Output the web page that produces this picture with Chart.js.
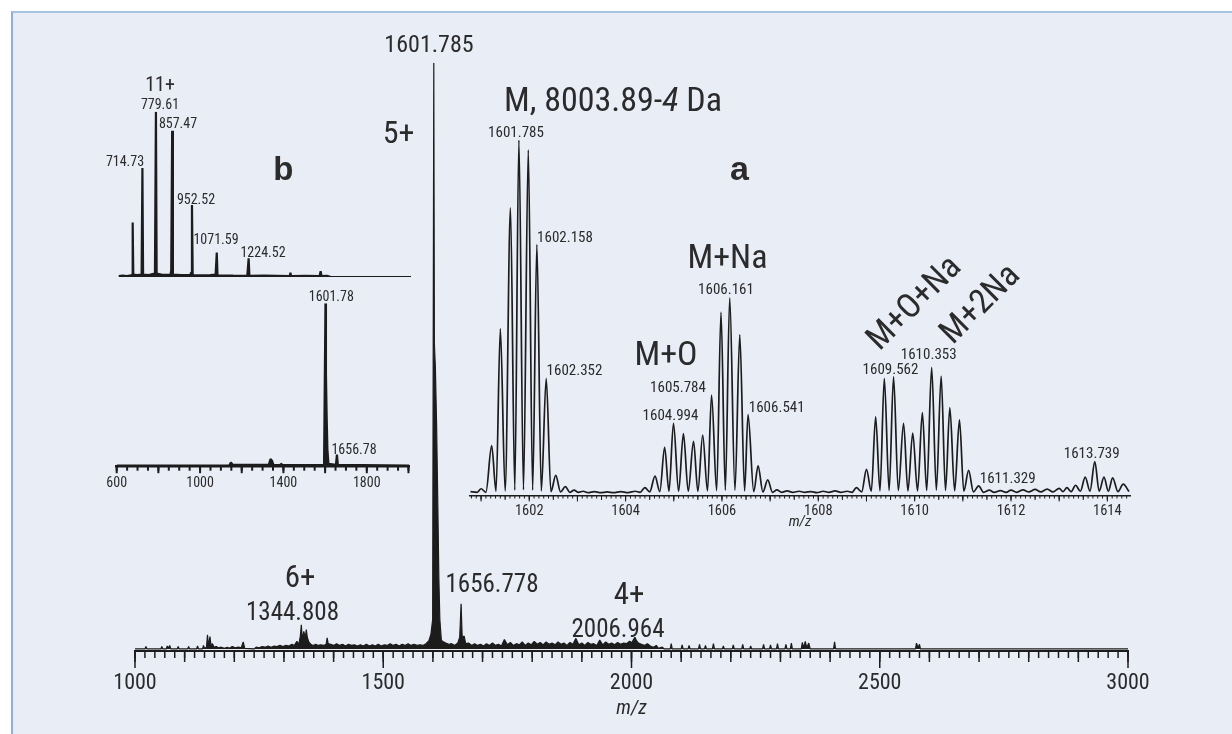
<!DOCTYPE html>
<html>
<head>
<meta charset="utf-8">
<title>ESI mass spectrum</title>
<script src="https://cdn.jsdelivr.net/npm/chart.js@4.4.1/dist/chart.umd.min.js"></script>
<style>
  html, body { margin: 0; padding: 0; background: #fff; overflow: hidden; }
  #stage { position: relative; width: 1232px; height: 734px; }
  #panel { position: absolute; left: 11px; top: 11px; right: 0; bottom: 0; background: #e8edf6;
           border-top: 2px solid #a6c3e1; border-left: 2px solid #8fb2d8; }
  canvas { position: absolute; left: 0; top: 0; width: 1232px; height: 734px; }
</style>
</head>
<body>
<div id="stage">
  <div id="panel"></div>
  <canvas id="mainChart" width="1232" height="734"></canvas>
  <canvas id="insetA" width="1232" height="734"></canvas>
  <canvas id="insetBTop" width="1232" height="734"></canvas>
  <canvas id="insetBLow" width="1232" height="734"></canvas>
</div>
<script>
const INK = '#1c1c1c';
const TEXT = '#2b2b2b';
const NARROW = "'Liberation Sans Narrow', 'Roboto Condensed', 'DejaVu Sans Condensed', sans-serif";
const WIDE = "'Liberation Sans', Arial, sans-serif";

// Main spectrum (m/z 1000-3000), intensity in % of the 5+ base peak
const mainMz = [
  1000, 1020, 1022, 1024, 1052, 1054, 1056, 1063, 1065, 1067, 1070, 1072, 1085, 1087, 1089,
  1106, 1108, 1110, 1124, 1126, 1128, 1136, 1138, 1140, 1144, 1146, 1148, 1151, 1153, 1156,
  1159, 1164, 1168, 1174, 1180, 1186, 1190, 1196, 1202, 1208, 1214, 1218, 1221, 1240, 1244,
  1250, 1256, 1262, 1268, 1274, 1280, 1286, 1292, 1298, 1304, 1310, 1316, 1321, 1326, 1330,
  1333, 1335, 1337, 1340, 1343, 1345, 1347, 1350, 1354, 1359, 1364, 1369, 1374, 1380, 1385,
  1387, 1389, 1394, 1400, 1406, 1412, 1418, 1424, 1430, 1436, 1442, 1448, 1454, 1460, 1466,
  1472, 1478, 1484, 1490, 1496, 1502, 1508, 1514, 1520, 1526, 1532, 1538, 1544, 1550, 1556,
  1562, 1568, 1574, 1580, 1586, 1592, 1596, 1599.5, 1601.785, 1603, 1605, 1607.5, 1610, 1612, 1614,
  1617, 1621, 1626, 1632, 1638, 1644, 1650, 1654, 1656.778, 1659, 1663, 1666, 1672, 1678, 1684,
  1690, 1696, 1702, 1708, 1714, 1720, 1726, 1732, 1738, 1744, 1750, 1756, 1762, 1768, 1774,
  1780, 1786, 1792, 1798, 1804, 1810, 1816, 1822, 1828, 1834, 1840, 1846, 1852, 1858, 1864,
  1870, 1876, 1882, 1888, 1894, 1900, 1906, 1912, 1918, 1924, 1930, 1936, 1942, 1948, 1954,
  1960, 1966, 1972, 1978, 1984, 1990, 1996, 2001, 2004, 2006.964, 2010, 2014, 2020, 2026, 2032,
  2038, 2044, 2050, 2054, 2062, 2066, 2078, 2080, 2082, 2100, 2102, 2104, 2114, 2116, 2118,
  2135, 2137, 2139, 2147, 2149, 2151, 2163, 2165, 2167, 2183, 2185, 2187, 2203, 2205, 2207,
  2222, 2224, 2226, 2238, 2240, 2242, 2264, 2266, 2268, 2278, 2280, 2282, 2292, 2294, 2296,
  2309, 2311, 2313, 2320, 2322, 2324, 2342, 2344, 2347, 2350, 2353, 2357, 2360, 2407, 2409,
  2411, 2572, 2574, 2577, 2580, 2582, 3000
];
const mainInt = [
  0, 0, 0.4, 0, 0, 0.4, 0, 0, 0.5, 0.1, 0.6, 0, 0, 0.4, 0,
  0, 0.4, 0, 0, 0.5, 0, 0, 0.6, 0.1, 0.3, 2.4, 0.5, 2.1, 0.6, 0.9,
  0.3, 0.4, 0.2, 0.3, 0.1, 0.3, 0.1, 0.4, 0.2, 0.3, 0.2, 1.2, 0.1, 0, 0.3,
  0.2, 0.4, 0.3, 0.5, 0.3, 0.5, 0.4, 0.6, 0.4, 0.6, 0.5, 0.8, 0.6, 1.3, 0.8,
  2.2, 4.1, 1.5, 3.0, 1.8, 3.3, 2.0, 1.2, 0.8, 0.6, 0.8, 0.6, 0.7, 0.6, 0.8,
  1.9, 0.9, 0.8, 0.6, 0.9, 0.6, 0.8, 0.5, 0.8, 0.6, 0.7, 0.5, 0.7, 0.5, 0.8,
  0.5, 0.7, 0.5, 0.8, 0.5, 0.7, 0.6, 0.9, 0.6, 0.8, 0.5, 0.8, 0.6, 0.9, 0.6,
  0.8, 0.6, 0.7, 0.6, 0.9, 1.4, 2.5, 5, 100, 52, 48, 38, 24, 12, 5,
  1.5, 1.2, 1.0, 0.8, 0.9, 0.6, 1.0, 2.0, 7.7, 2.0, 2.2, 0.9, 1.0, 0.6, 0.9,
  0.6, 0.8, 0.5, 0.9, 0.6, 1.0, 0.6, 0.8, 0.5, 1.6, 0.7, 1.1, 0.6, 0.9, 0.7,
  1.2, 0.6, 1.0, 0.7, 1.3, 0.8, 1.1, 0.7, 1.2, 0.8, 1.0, 0.7, 1.2, 0.8, 1.0,
  0.6, 1.1, 0.8, 1.8, 0.7, 1.0, 0.6, 1.1, 0.8, 0.9, 0.6, 1.5, 0.7, 1.2, 0.8,
  1.0, 0.7, 1.1, 0.8, 1.0, 0.9, 1.3, 1.1, 1.6, 2.0, 1.4, 1.0, 0.8, 0.6, 0.9,
  0.5, 0.3, 0.6, 0.1, 0.3, 0, 0, 0.9, 0, 0, 0.7, 0, 0, 0.6, 0,
  0, 0.8, 0, 0, 0.6, 0, 0, 0.9, 0, 0, 0.5, 0, 0, 0.7, 0,
  0, 0.8, 0, 0, 0.5, 0, 0, 0.8, 0, 0, 0.7, 0, 0, 0.9, 0,
  0, 0.8, 0, 0, 1.0, 0, 0, 1.1, 0.2, 1.3, 0.2, 1.0, 0, 0, 1.2,
  0, 0, 1.0, 0.2, 0.8, 0, 0
];
const mainTicks = [1000, 1500, 2000, 2500, 3000];

// Inset a: isotope clusters of the 5+ ion (peaks and the valleys between them)
const aMz = [
  1600.78, 1600.92, 1601.00, 1601.10, 1601.22, 1601.31, 1601.40, 1601.50, 1601.61, 1601.70,
  1601.785, 1601.88, 1601.98, 1602.07, 1602.158, 1602.25, 1602.352, 1602.45, 1602.55, 1602.65,
  1602.75, 1602.84, 1602.93, 1603.02, 1603.12, 1603.22, 1603.35, 1603.48, 1603.62, 1603.75,
  1603.90, 1604.05, 1604.20, 1604.30, 1604.40, 1604.50, 1604.61, 1604.71, 1604.81, 1604.90,
  1604.994, 1605.10, 1605.20, 1605.30, 1605.41, 1605.50, 1605.60, 1605.70, 1605.784, 1605.89,
  1605.98, 1606.07, 1606.161, 1606.27, 1606.37, 1606.47, 1606.541, 1606.66, 1606.75, 1606.85,
  1606.95, 1607.05, 1607.14, 1607.24, 1607.35, 1607.47, 1607.60, 1607.72, 1607.85, 1607.97,
  1608.10, 1608.22, 1608.35, 1608.47, 1608.60, 1608.70, 1608.79, 1608.90, 1609.00, 1609.10,
  1609.19, 1609.28, 1609.37, 1609.47, 1609.562, 1609.66, 1609.77, 1609.86, 1609.96, 1610.06,
  1610.16, 1610.25, 1610.353, 1610.45, 1610.55, 1610.64, 1610.73, 1610.83, 1610.93, 1611.02,
  1611.12, 1611.22, 1611.329, 1611.43, 1611.55, 1611.65, 1611.78, 1611.90, 1612.00, 1612.12,
  1612.25, 1612.37, 1612.50, 1612.62, 1612.75, 1612.87, 1613.00, 1613.08, 1613.16, 1613.25,
  1613.34, 1613.44, 1613.54, 1613.64, 1613.739, 1613.83, 1613.93, 1614.02, 1614.11, 1614.22,
  1614.33, 1614.45
];
const aInt = [
  0.4, 0.2, 1.2, 0.2, 13.4, 0.5, 46.5, 0.6, 80.8, 0.8,
  100, 0.9, 97.2, 0.8, 70.4, 0.6, 32.5, 0.4, 5.0, 0.3,
  1.8, 0.2, 0.8, 0.2, 0.5, 0.1, 0.4, 0.1, 0.3, 0.1,
  0.4, 0.1, 0.5, 0.2, 1.5, 0.3, 4.8, 0.4, 12.9, 0.5,
  19.7, 0.5, 16.8, 0.5, 14.6, 0.5, 16.4, 0.6, 27.7, 0.7,
  51.2, 0.8, 55.3, 0.8, 44.8, 0.6, 22.2, 0.4, 7.7, 0.3,
  3.7, 0.2, 0.9, 0.2, 0.6, 0.2, 0.5, 0.2, 0.4, 0.1,
  0.5, 0.2, 0.6, 0.2, 0.5, 0.2, 1.5, 0.3, 6.7, 0.5,
  21.6, 0.6, 32.5, 0.7, 33.0, 0.7, 19.7, 0.6, 17.0, 0.6,
  22.8, 0.7, 35.6, 0.8, 33.1, 0.7, 24.2, 0.6, 20.7, 0.5,
  6.4, 0.3, 2.0, 0.2, 0.8, 0.2, 0.7, 0.2, 0.8, 0.2,
  0.9, 0.3, 1.0, 0.3, 1.1, 0.3, 1.3, 0.4, 1.5, 0.4,
  2.2, 0.5, 4.5, 0.5, 8.9, 0.5, 4.5, 0.5, 4.3, 0.4,
  2.5, 0.4
];
const aTicks = [1602, 1604, 1606, 1608, 1610, 1612, 1614];

// Inset b, upper trace: 8-12+ charge states, % of 779.61
const bTopMz = [600, 620, 640, 660, 665, 668, 671, 690, 708, 711, 714.73, 718, 745, 772, 775,
  779.61, 783, 810, 850, 853, 857.47, 861, 900, 945, 948, 952.52, 956, 1000, 1040, 1066,
  1071.59, 1075, 1110, 1150, 1218, 1224.52, 1228, 1300, 1422, 1425, 1428, 1500, 1565, 1570,
  1574, 1600, 1620, 2004];
const bTopInt = [0.5, 0.9, 0.6, 1.0, 1.4, 33, 1.4, 1.1, 1.4, 3.6, 66, 1.5, 1.2, 2, 4.6,
  100, 2, 1.3, 1.5, 4, 88.5, 1.5, 1.2, 1.3, 2.6, 43.5, 1.2, 1.0, 1.2, 1.5,
  14.8, 1.0, 0.9, 0.8, 0.7, 11.3, 0.7, 0.8, 0.6, 2.6, 0.6, 0.7, 0.6, 3.5,
  0.6, 0.7, 0, 0];

// Inset b, lower trace: 5+ dominant, % of 1601.78
const bLowMz = [600, 1140, 1148, 1156, 1330, 1338, 1345, 1352, 1384, 1388, 1395, 1595, 1601.78,
  1604, 1607, 1611, 1616, 1652, 1656.78, 1661, 2004];
const bLowInt = [0, 0, 1.9, 0.5, 0.5, 4, 3, 0.5, 0.3, 1.2, 0.3, 0.5, 100,
  57, 33, 10, 1, 0.5, 6.8, 0.5, 0];
const bTicks = [600, 1000, 1400, 1800];

function toPoints(xs, ys) {
  return xs.map((x, i) => ({ x: x, y: ys[i] }));
}

// minor / medium / major tick marks hanging below the x axis line
function tickMarks(levels, color, width) {
  return {
    id: 'tickMarks',
    afterDraw(chart) {
      const scale = chart.scales.x;
      const ctx = chart.ctx;
      const y0 = chart.chartArea.bottom;
      ctx.save();
      ctx.strokeStyle = color;
      ctx.lineWidth = width;
      levels.forEach(lv => {
        const n = Math.floor((scale.max - lv.from) / lv.step + 1e-6);
        for (let i = 0; i <= n; i++) {
          const px = scale.getPixelForValue(lv.from + i * lv.step);
          ctx.beginPath();
          ctx.moveTo(px, y0);
          ctx.lineTo(px, y0 + lv.len);
          ctx.stroke();
        }
      });
      ctx.restore();
    }
  };
}

// peak labels and panel captions
function notes(list) {
  return {
    id: 'notes',
    afterDraw(chart) {
      const ctx = chart.ctx;
      ctx.save();
      ctx.fillStyle = TEXT;
      list.forEach(n => {
        const fam = n.bold ? WIDE : NARROW;
        if (n.parts) {
          const fonts = n.parts.map(p => (p[1] ? p[1] + ' ' : '') + n.size + 'px ' + fam);
          let total = 0;
          n.parts.forEach((p, i) => { ctx.font = fonts[i]; total += ctx.measureText(p[0]).width; });
          let x = n.x - total / 2;
          ctx.textAlign = 'left';
          ctx.textBaseline = 'alphabetic';
          n.parts.forEach((p, i) => {
            ctx.font = fonts[i];
            ctx.fillText(p[0], x, n.y);
            x += ctx.measureText(p[0]).width;
          });
          return;
        }
        ctx.font = (n.bold ? 'bold ' : '') + n.size + 'px ' + fam;
        ctx.textAlign = 'center';
        if (n.rot) {
          ctx.save();
          ctx.translate(n.x, n.y);
          ctx.rotate(n.rot * Math.PI / 180);
          ctx.textBaseline = 'middle';
          ctx.fillText(n.text, 0, 0);
          ctx.restore();
        } else {
          ctx.textBaseline = 'alphabetic';
          ctx.fillText(n.text, n.x, n.y);
        }
      });
      ctx.restore();
    }
  };
}

const noLegend = { legend: { display: false }, tooltip: { enabled: false } };

// Main spectrum
new Chart(document.getElementById('mainChart'), {
  type: 'line',
  data: {
    datasets: [{
      data: toPoints(mainMz, mainInt),
      borderColor: INK,
      backgroundColor: INK,
      borderWidth: 1.2,
      borderJoinStyle: 'bevel',
      pointRadius: 0,
      tension: 0,
      fill: 'origin'
    }]
  },
  options: {
    responsive: false,
    animation: false,
    events: [],
    layout: { padding: { left: 135, right: 1232 - 1128, top: 62.7, bottom: 0 } },
    plugins: noLegend,
    scales: {
      x: {
        type: 'linear',
        min: 1000,
        max: 3000,
        afterFit: s => { s.height = 734 - 651; },
        afterBuildTicks: s => { s.ticks = mainTicks.map(v => ({ value: v })); },
        grid: { display: false, drawTicks: false },
        border: { display: true, color: INK, width: 2 },
        ticks: {
          autoSkip: false, maxRotation: 0, padding: 19, color: TEXT,
          font: { family: NARROW, size: 22 },
          callback: v => String(v)
        },
        title: {
          display: true, text: 'm/z', color: TEXT,
          font: { family: NARROW, size: 20, style: 'italic' },
          padding: { top: 0, bottom: 13 }
        }
      },
      y: { display: false, min: -0.35, max: 100 }
    }
  },
  plugins: [
    tickMarks([{ from: 1000, step: 20, len: 7 }, { from: 1000, step: 100, len: 11 }, { from: 1000, step: 500, len: 17 }], INK, 1.5),
    notes([
      { text: '1601.785', x: 429, y: 52, size: 24 },
      { text: '5+', x: 398.5, y: 143, size: 32 },
      { text: '6+', x: 300, y: 587, size: 31 },
      { text: '1344.808', x: 292.5, y: 620, size: 25 },
      { text: '1656.778', x: 492, y: 592, size: 25 },
      { text: '4+', x: 629, y: 604, size: 31 },
      { text: '2006.964', x: 618, y: 637, size: 25 }
    ])
  ]
});

// Inset a: zoom on the 5+ isotope clusters
new Chart(document.getElementById('insetA'), {
  type: 'line',
  data: {
    datasets: [{
      data: toPoints(aMz, aInt),
      borderColor: INK,
      borderWidth: 1.7,
      pointRadius: 0,
      cubicInterpolationMode: 'monotone',
      fill: false
    }]
  },
  options: {
    responsive: false,
    animation: false,
    events: [],
    layout: { padding: { left: 470, right: 1232 - 1130, top: 140, bottom: 0 } },
    plugins: noLegend,
    scales: {
      x: {
        type: 'linear',
        min: 1600.77,
        max: 1614.47,
        afterFit: s => { s.height = 734 - 496; },
        afterBuildTicks: s => { s.ticks = aTicks.map(v => ({ value: v })); },
        grid: { display: false, drawTicks: false },
        border: { display: true, color: INK, width: 1.5 },
        ticks: {
          autoSkip: false, maxRotation: 0, padding: 7, color: TEXT,
          font: { family: NARROW, size: 14.5 },
          callback: v => String(v)
        },
        title: {
          display: true, text: 'm/z', color: TEXT,
          font: { family: NARROW, size: 15, style: 'italic' },
          padding: { top: 0, bottom: 203 }
        }
      },
      y: { display: false, min: -0.85, max: 100 }
    }
  },
  plugins: [
    tickMarks([{ from: 1600.8, step: 0.1, len: 2.5 }, { from: 1601, step: 0.5, len: 4 }, { from: 1601, step: 1, len: 5.5 }], INK, 1),
    notes([
      { parts: [['M, 8003.89-', ''], ['4', 'italic'], [' Da', '']], x: 613, y: 111, size: 34 },
      { text: 'a', x: 739.5, y: 180, size: 34, bold: true },
      { text: '1601.785', x: 516, y: 137.3, size: 15 },
      { text: '1602.158', x: 565, y: 241.7, size: 15 },
      { text: '1602.352', x: 574.5, y: 375, size: 15 },
      { text: 'M+O', x: 666, y: 365, size: 34 },
      { text: '1605.784', x: 678, y: 391.7, size: 15 },
      { text: '1604.994', x: 670.5, y: 420, size: 15 },
      { text: 'M+Na', x: 727.5, y: 268.3, size: 34 },
      { text: '1606.161', x: 726, y: 294, size: 15 },
      { text: '1606.541', x: 776.7, y: 412, size: 15 },
      { text: 'M+O+Na', x: 915, y: 304, size: 34, rot: -45 },
      { text: 'M+2Na', x: 981, y: 305, size: 34, rot: -45 },
      { text: '1609.562', x: 890.5, y: 374.3, size: 15 },
      { text: '1610.353', x: 928.7, y: 359.3, size: 15 },
      { text: '1611.329', x: 1007.7, y: 483.3, size: 15 },
      { text: '1613.739', x: 1091.7, y: 458.3, size: 15 }
    ])
  ]
});

// Inset b, upper trace
new Chart(document.getElementById('insetBTop'), {
  type: 'line',
  data: {
    datasets: [{
      data: toPoints(bTopMz, bTopInt),
      borderColor: INK,
      backgroundColor: INK,
      borderWidth: 2.2,
      borderJoinStyle: 'bevel',
      pointRadius: 0,
      tension: 0,
      fill: 'origin'
    }]
  },
  options: {
    responsive: false,
    animation: false,
    events: [],
    layout: { padding: { left: 118.5, right: 1232 - 411.1, top: 111.7, bottom: 734 - 277 } },
    plugins: noLegend,
    scales: {
      x: { type: 'linear', display: false, min: 600, max: 2004 },
      y: { display: false, min: 0, max: 100 }
    }
  },
  plugins: [
    notes([
      { text: '11+', x: 160, y: 90.7, size: 20 },
      { text: '779.61', x: 160, y: 109.3, size: 14 },
      { text: '857.47', x: 178, y: 128.3, size: 14 },
      { text: '714.73', x: 125, y: 166, size: 14 },
      { text: '952.52', x: 196, y: 204, size: 14 },
      { text: '1071.59', x: 216, y: 244, size: 14 },
      { text: '1224.52', x: 263, y: 257.3, size: 14 },
      { text: 'b', x: 283.3, y: 180, size: 33, bold: true }
    ])
  ]
});

// Inset b, lower trace
new Chart(document.getElementById('insetBLow'), {
  type: 'line',
  data: {
    datasets: [{
      data: toPoints(bLowMz, bLowInt),
      borderColor: INK,
      backgroundColor: INK,
      borderWidth: 2.2,
      borderJoinStyle: 'bevel',
      pointRadius: 0,
      tension: 0,
      fill: 'origin'
    }]
  },
  options: {
    responsive: false,
    animation: false,
    events: [],
    layout: { padding: { left: 116.7, right: 1232 - 409.3, top: 303.3, bottom: 0 } },
    plugins: noLegend,
    scales: {
      x: {
        type: 'linear',
        min: 600,
        max: 2004,
        afterFit: s => { s.height = 734 - 466.7; },
        afterBuildTicks: s => { s.ticks = bTicks.map(v => ({ value: v })); },
        grid: { display: false, drawTicks: false },
        border: { display: true, color: INK, width: 2.5 },
        ticks: {
          autoSkip: false, maxRotation: 0, padding: 8, color: TEXT,
          font: { family: NARROW, size: 14 },
          callback: v => String(v)
        }
      },
      y: { display: false, min: -0.7, max: 100 }
    }
  },
  plugins: [
    tickMarks([{ from: 600, step: 50, len: 4 }, { from: 600, step: 200, len: 6.5 }], INK, 2),
    notes([
      { text: '1601.78', x: 331.3, y: 300.7, size: 14 },
      { text: '1656.78', x: 354, y: 454, size: 14 }
    ])
  ]
});
</script>
</body>
</html>
